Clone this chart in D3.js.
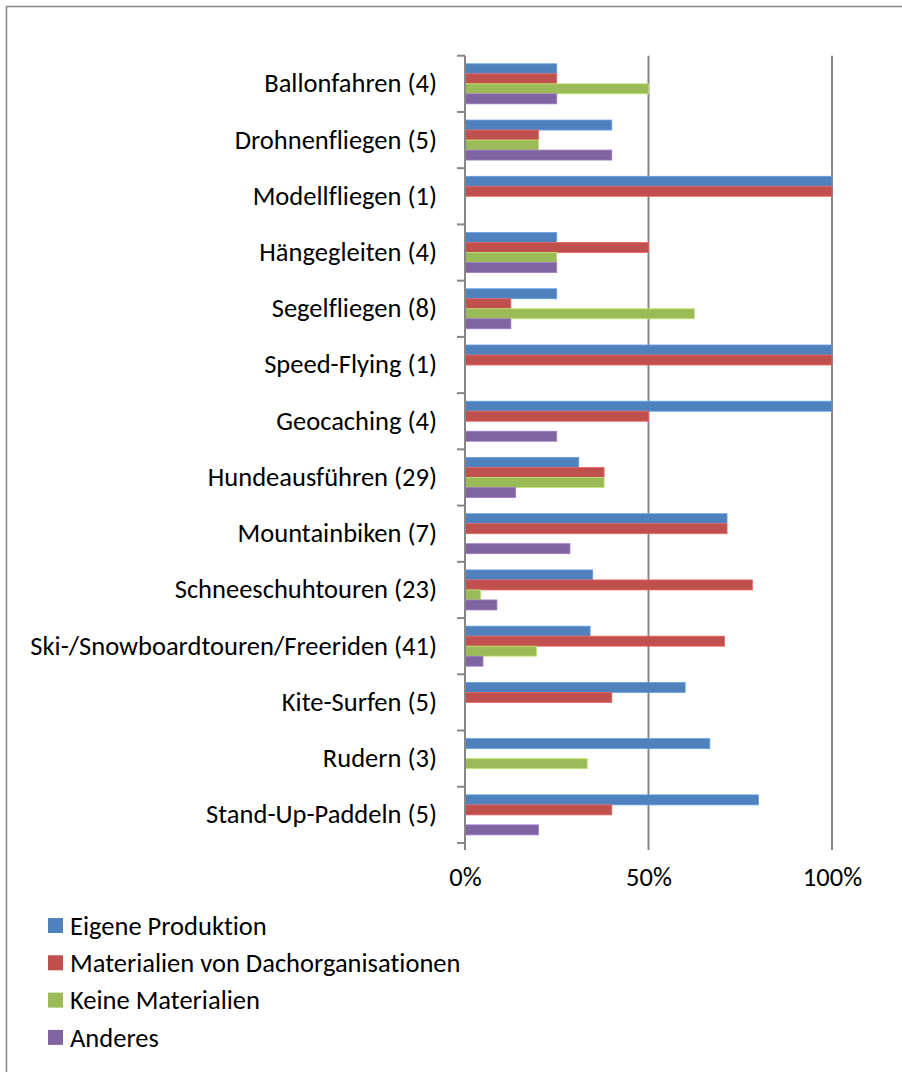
<!DOCTYPE html>
<html>
<head>
<meta charset="utf-8">
<script src="https://cdn.jsdelivr.net/npm/d3@7"></script>
<style>
  html, body { margin: 0; padding: 0; background: #fff; }
  svg { display: block; }
  text { font-family: Calibri, Carlito, "Open Sans", sans-serif; fill: #000; font-variant-ligatures: none; font-feature-settings: "liga" 0, "clig" 0; }
</style>
</head>
<body>
<svg id="chart" width="902" height="1072"></svg>
<script>
// ---- data ----
const categories = [
  "Ballonfahren (4)", "Drohnenfliegen (5)", "Modellfliegen (1)", "Hängegleiten (4)",
  "Segelfliegen (8)", "Speed-Flying (1)", "Geocaching (4)", "Hundeausführen (29)",
  "Mountainbiken (7)", "Schneeschuhtouren (23)", "Ski-/Snowboardtouren/Freeriden (41)",
  "Kite-Surfen (5)", "Rudern (3)", "Stand-Up-Paddeln (5)"
];
const seriesNames = ["Eigene Produktion", "Materialien von Dachorganisationen", "Keine Materialien", "Anderes"];
const eigeneProduktion   = [25, 40, 100, 25, 25, 100, 100, 31.0, 71.4, 34.8, 34.1, 60, 66.7, 80];
const dachorganisationen = [25, 20, 100, 50, 12.5, 100, 50, 37.9, 71.4, 78.3, 70.7, 40, 0, 40];
const keineMaterialien   = [50, 20, 0, 25, 62.5, 0, 0, 37.9, 0, 4.3, 19.5, 0, 33.3, 0];
const anderes            = [25, 40, 0, 25, 12.5, 0, 25, 13.8, 28.6, 8.7, 4.9, 0, 0, 20];
const tickValues = [0, 50, 100];
const tickLabels = ["0%", "50%", "100%"];
const seriesColors = ["#4F81BD", "#C0504D", "#9BBB59", "#8064A2"];

const seriesValues = [eigeneProduktion, dachorganisationen, keineMaterialien, anderes];

// ---- layout ----
const svg = d3.select("#chart");
const gridColor = "#868686";
const plot = { left: 465, right: 832, top: 55.7, bottom: 843 };

// outer border
svg.append("path")
  .attr("d", `M906,6.5 H6.5 V1080`)
  .attr("fill", "none").attr("stroke", gridColor).attr("stroke-width", 1.5);

const x = d3.scaleLinear().domain([0, 100]).range([plot.left, plot.right]);
const y = d3.scaleBand().domain(categories).range([plot.top, plot.bottom]).padding(0);
const inner = d3.scaleBand().domain(seriesNames).range([0, y.bandwidth()]).paddingInner(0).paddingOuter(0.81);

// font sizing: fit longest label to reference width
const probe = svg.append("text").attr("font-size", 20).text("Ski-/Snowboardtouren/Freeriden (41)");
const w20 = probe.node().getComputedTextLength();
probe.remove();
const fontSize = 20 * 407 / w20;

// gridlines (50%, 100%) extend slightly below as ticks
svg.append("g").selectAll("line")
  .data(tickValues.filter(v => v > 0))
  .join("line")
  .attr("x1", d => x(d)).attr("x2", d => x(d))
  .attr("y1", plot.top).attr("y2", plot.bottom + 7)
  .attr("stroke", gridColor).attr("stroke-width", 2);

// bars
const groups = svg.append("g").selectAll("g")
  .data(categories)
  .join("g")
  .attr("transform", d => `translate(0,${y(d)})`);

groups.selectAll("rect")
  .data((d, i) => seriesNames.map((s, j) => ({ s, j, v: seriesValues[j][i] })).filter(e => e.v > 0))
  .join("rect")
  .attr("x", x(0))
  .attr("y", e => inner(e.s))
  .attr("width", e => x(e.v) - x(0))
  .attr("height", inner.bandwidth())
  .attr("fill", e => seriesColors[e.j])
  .attr("stroke", e => d3.color(seriesColors[e.j]).brighter(0.6))
  .attr("stroke-width", 0.8);

// category axis (left)
const yAxis = d3.axisLeft(y).tickSize(0).tickPadding(28);
const yg = svg.append("g").attr("transform", `translate(${plot.left},0)`).call(yAxis);
yg.select(".domain").remove();
yg.selectAll("text").attr("font-size", fontSize).attr("font-family", null).attr("fill", "#000");

// category separators ticks
const boundaries = categories.map(c => y(c)).concat([plot.bottom]);
svg.append("g").selectAll("line")
  .data(boundaries)
  .join("line")
  .attr("x1", plot.left - 8).attr("x2", plot.left)
  .attr("y1", d => d).attr("y2", d => d)
  .attr("stroke", gridColor).attr("stroke-width", 2);

// vertical axis line
svg.append("line")
  .attr("x1", plot.left).attr("x2", plot.left)
  .attr("y1", plot.top).attr("y2", plot.bottom + 7)
  .attr("stroke", gridColor).attr("stroke-width", 2);

// value axis (bottom)
const xAxis = d3.axisBottom(x).tickValues(tickValues).tickFormat((d, i) => tickLabels[i]).tickSize(0).tickPadding(0);
const xg = svg.append("g").attr("transform", `translate(0,${plot.bottom})`).call(xAxis);
xg.select(".domain").remove();
xg.selectAll("text").attr("font-size", fontSize).attr("font-family", null).attr("fill", "#000")
  .attr("dy", null).attr("y", 43);

// legend
const legend = svg.append("g").attr("transform", "translate(48,918)");
const rowH = 37.3;
const items = legend.selectAll("g").data(seriesNames).join("g")
  .attr("transform", (d, i) => `translate(0,${i * rowH})`);
items.append("rect").attr("width", 15).attr("height", 15).attr("fill", (d, i) => seriesColors[i]);
items.append("text").attr("x", 22).attr("y", 7.5).attr("dy", "0.35em")
  .attr("font-size", fontSize).text(d => d);
</script>
</body>
</html>
